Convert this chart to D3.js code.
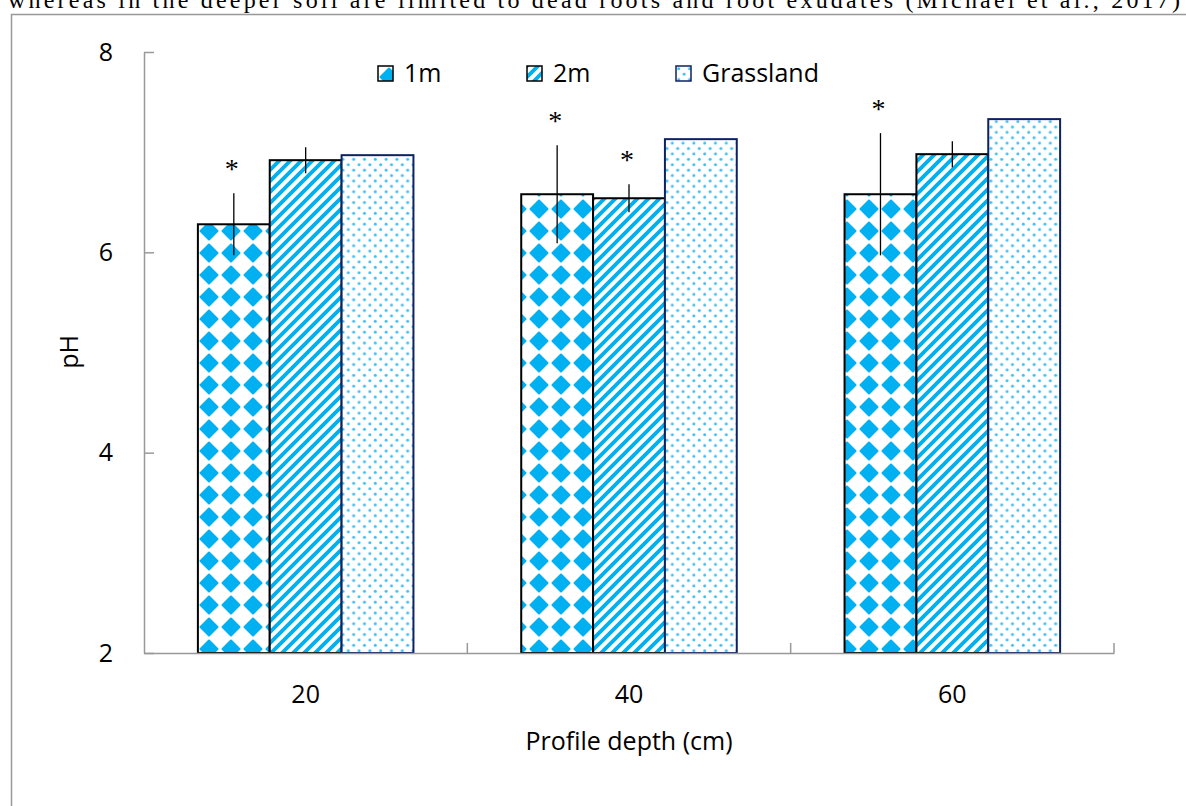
<!DOCTYPE html>
<html>
<head>
<meta charset="utf-8">
<script src="https://cdn.jsdelivr.net/npm/d3@7"></script>
<style>
  body { margin: 0; background: #fff; }
  svg { display: block; }
</style>
</head>
<body>
<svg id="chart" width="1186" height="806"></svg>
<script>
// data
const depths = ["20", "40", "60"];
const series = ["1m", "2m", "Grassland"];
const means = {
  "1m":        [6.28, 6.58, 6.58],
  "2m":        [6.92, 6.54, 6.98],
  "Grassland": [6.97, 7.13, 7.33]
};
const errors = {
  "1m":        [0.31, 0.49, 0.61],
  "2m":        [0.13, 0.14, 0.13],
  "Grassland": [null, null, null]
};
const stars = {
  "1m":        [true, true, true],
  "2m":        [false, true, false],
  "Grassland": [false, false, false]
};
const yTicks = [2, 4, 6, 8];

const svg = d3.select("#chart");
const font = "'Open Sans', sans-serif";
const axisGray = "#999";

// --- patterns ---
const defs = svg.append("defs");
const blue = "#00b0f0";

// blue diamonds on a square grid
const diamond = defs.append("pattern").attr("id", "pat1m")
  .attr("patternUnits", "userSpaceOnUse").attr("width", 22).attr("height", 22)
  .attr("x", 198).attr("y", 0);
diamond.append("rect").attr("width", 22).attr("height", 22).attr("fill", "#fff");
diamond.append("path")
  .attr("d", "M11,2.5L19.5,11L11,19.5L2.5,11Z")
  .attr("fill", blue).attr("stroke", blue).attr("stroke-width", 2).attr("stroke-linejoin", "round");

const stripe = defs.append("pattern").attr("id", "pat2m")
  .attr("patternUnits", "userSpaceOnUse").attr("width", 11).attr("height", 11);
stripe.append("rect").attr("width", 11).attr("height", 11).attr("fill", "#fff");
stripe.append("path")
  .attr("d", "M-3,3L3,-3M0,11L11,0M8,14L14,8")
  .attr("stroke", blue).attr("stroke-width", 3.8);

const dots = defs.append("pattern").attr("id", "patGrass")
  .attr("patternUnits", "userSpaceOnUse").attr("width", 10.8).attr("height", 10.8);
dots.append("rect").attr("width", 10.8).attr("height", 10.8).attr("fill", "#fff");
[[2.7, 2.7], [8.1, 8.1]].forEach(([cx, cy]) => {
  dots.append("circle").attr("cx", cx).attr("cy", cy).attr("r", 1.5).attr("fill", "#3fbdf2");
});

const fills = { "1m": "url(#pat1m)", "2m": "url(#pat2m)", "Grassland": "url(#patGrass)" };
const strokes = { "1m": "#000", "2m": "#000", "Grassland": "#0d2260" };

// --- page text above the chart (cut off line of the article) ---
svg.append("text")
  .attr("x", 8).attr("y", 8)
  .attr("font-family", "'Liberation Serif', 'Times New Roman', serif")
  .attr("font-size", 24)
  .attr("textLength", 1172).attr("lengthAdjust", "spacing")
  .text("whereas in the deeper soil are limited to dead roots and root exudates (Michael et al., 2017)");

// chart frame
svg.append("path")
  .attr("d", "M11.5,806V14.5H1186")
  .attr("fill", "none").attr("stroke", axisGray).attr("stroke-width", 1.5);

// --- scales ---
const x0 = d3.scaleBand().domain(depths).range([144, 1114]);
const bw = x0.bandwidth();
const x1 = d3.scaleBand().domain(series).range([bw / 6, bw * 5 / 6]);
const y = d3.scaleLinear().domain([2, 8]).range([653, 52]);

// --- bars ---
const rows = [];
depths.forEach((d, i) => series.forEach(s => {
  rows.push({ depth: d, s, v: means[s][i], e: errors[s][i], star: stars[s][i] });
}));

svg.append("g").selectAll("rect")
  .data(rows)
  .join("rect")
  .attr("x", d => x0(d.depth) + x1(d.s))
  .attr("y", d => y(d.v))
  .attr("width", x1.bandwidth())
  .attr("height", d => y(2) - y(d.v))
  .attr("fill", d => fills[d.s])
  .attr("stroke", d => strokes[d.s])
  .attr("stroke-width", 2);

// error bars
const withErr = rows.filter(d => d.e != null);
svg.append("g").selectAll("line")
  .data(withErr)
  .join("line")
  .attr("x1", d => x0(d.depth) + x1(d.s) + x1.bandwidth() / 2)
  .attr("x2", d => x0(d.depth) + x1(d.s) + x1.bandwidth() / 2)
  .attr("y1", d => y(d.v + d.e))
  .attr("y2", d => y(d.v - d.e))
  .attr("stroke", "#000").attr("stroke-width", 1.3);

// significance stars
svg.append("g").selectAll("text")
  .data(rows.filter(d => d.star))
  .join("text")
  .attr("x", d => x0(d.depth) + x1(d.s) + x1.bandwidth() / 2 - 2)
  .attr("y", d => y(d.v + (d.e || 0)) - 15)
  .attr("text-anchor", "middle")
  .attr("font-family", "'Liberation Serif', serif")
  .attr("font-size", 28)
  .text("*");

// --- axes ---
const yAxis = svg.append("g")
  .attr("transform", "translate(144,0)")
  .call(d3.axisLeft(y).tickValues(yTicks).tickSizeInner(-10).tickSizeOuter(0).tickPadding(31).tickFormat(d3.format("d")));
yAxis.select(".domain").attr("stroke", axisGray).attr("stroke-width", 1.5);
yAxis.selectAll(".tick line").attr("stroke", axisGray).attr("stroke-width", 1.5);
yAxis.selectAll("text").attr("font-family", font).attr("font-size", 25).attr("fill", "#000");

const xAxis = svg.append("g")
  .attr("transform", "translate(0,653)")
  .call(d3.axisBottom(x0).tickSize(0).tickPadding(32));
xAxis.select(".domain").attr("stroke", axisGray).attr("stroke-width", 1.5);
xAxis.selectAll("text").attr("font-family", font).attr("font-size", 25).attr("fill", "#000");

// category boundary ticks
svg.append("g").selectAll("line")
  .data(depths)
  .join("line")
  .attr("x1", d => x0(d) + bw).attr("x2", d => x0(d) + bw)
  .attr("y1", 653).attr("y2", 643)
  .attr("stroke", axisGray).attr("stroke-width", 1.5);

// axis titles
svg.append("text")
  .attr("x", 629).attr("y", 750)
  .attr("text-anchor", "middle")
  .attr("font-family", font).attr("font-size", 25)
  .text("Profile depth (cm)");

svg.append("text")
  .attr("transform", "translate(78,352) rotate(-90)")
  .attr("text-anchor", "middle")
  .attr("font-family", font).attr("font-size", 25)
  .text("pH");

// --- legend ---
const legendX = { "1m": 378, "2m": 527, "Grassland": 676 };
const legend = svg.append("g").selectAll("g")
  .data(series)
  .join("g")
  .attr("transform", d => `translate(${legendX[d]},66)`);
legend.append("rect")
  .attr("width", 15).attr("height", 15)
  .attr("fill", d => fills[d])
  .attr("stroke", d => strokes[d]).attr("stroke-width", 1.5);
legend.append("text")
  .attr("x", 26).attr("y", 16)
  .attr("font-family", font).attr("font-size", 25)
  .text(d => d);
</script>
</body>
</html>
